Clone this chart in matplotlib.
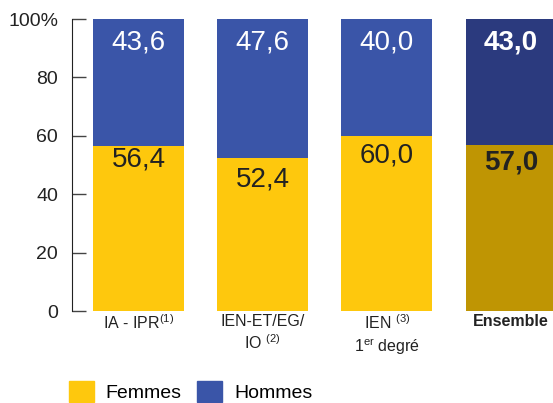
import matplotlib
matplotlib.use('Agg')
import matplotlib.pyplot as plt
from matplotlib.patches import Patch

plt.rcParams['font.family'] = ['Liberation Sans', 'DejaVu Sans']
plt.rcParams['mathtext.fontset'] = 'custom'
plt.rcParams['mathtext.rm'] = 'Liberation Sans'
plt.rcParams['mathtext.it'] = 'Liberation Sans'

categories = [r'IA - IPR$^{\mathrm{(1)}}$', 'IEN-ET/EG/\n' + r'IO $^{\mathrm{(2)}}$',
              r'IEN $^{\mathrm{(3)}}$' + '\n' + r'1$^{\mathrm{er}}$ degré', 'Ensemble']
femmes = [56.4, 52.4, 60.0, 57.0]
hommes = [43.6, 47.6, 40.0, 43.0]

yellow = '#FEC80D'
blue = '#3A55A8'
gold = '#BF9503'
navy = '#2B3A7E'
fcol = [yellow, yellow, yellow, gold]
hcol = [blue, blue, blue, navy]
# how far below the top of the yellow part each label sits
label_drop = [4.5, 7.4, 6.8, 6.2]

fig = plt.figure(figsize=(5.53, 4.03), dpi=100)
ax = fig.add_axes([72/553, 1-311/403, (553-72)/553, 292/403])

x = range(len(categories))
ax.bar(x, femmes, width=0.73, color=fcol)
ax.bar(x, hommes, width=0.73, bottom=femmes, color=hcol)

for i in x:
    bold = 'bold' if i == 3 else 'normal'
    ax.text(i, femmes[i] - label_drop[i], f'{femmes[i]:.1f}'.replace('.', ','), ha='center',
            va='center', fontsize=20, color='#222222', fontweight=bold)
    ax.text(i, 92, f'{hommes[i]:.1f}'.replace('.', ','), ha='center', va='center',
            fontsize=20, color='white', fontweight=bold)

ax.set_xlim(-0.536, 3.34)
ax.set_ylim(0, 100)
ax.set_yticks([0, 20, 40, 60, 80, 100])
ax.set_yticklabels(['0', '20', '40', '60', '80', '100%'], fontsize=14, color='#222222')
ax.tick_params(axis='y', direction='in', length=10, width=1, color='#444444', pad=10)
ax.set_xticks(list(x))
ax.set_xticklabels(categories, fontsize=11.5, color='#222222', linespacing=1.3)
for lbl in ax.get_xticklabels()[3:]:
    lbl.set_fontweight('bold')
ax.tick_params(axis='x', length=0, pad=2)
for s in ['top', 'right', 'bottom']:
    ax.spines[s].set_visible(False)
ax.spines['left'].set_color('#222222')

handles = [Patch(color=yellow, label='Femmes'), Patch(color=blue, label='Hommes')]
fig.legend(handles=handles, loc='lower left', bbox_to_anchor=(0.110, -0.018), ncol=2,
           frameon=False, fontsize=14, handlelength=1.3, handleheight=1.3,
           columnspacing=0.8, handletextpad=0.6, borderaxespad=0)

fig.savefig('out.png', dpi=100)
